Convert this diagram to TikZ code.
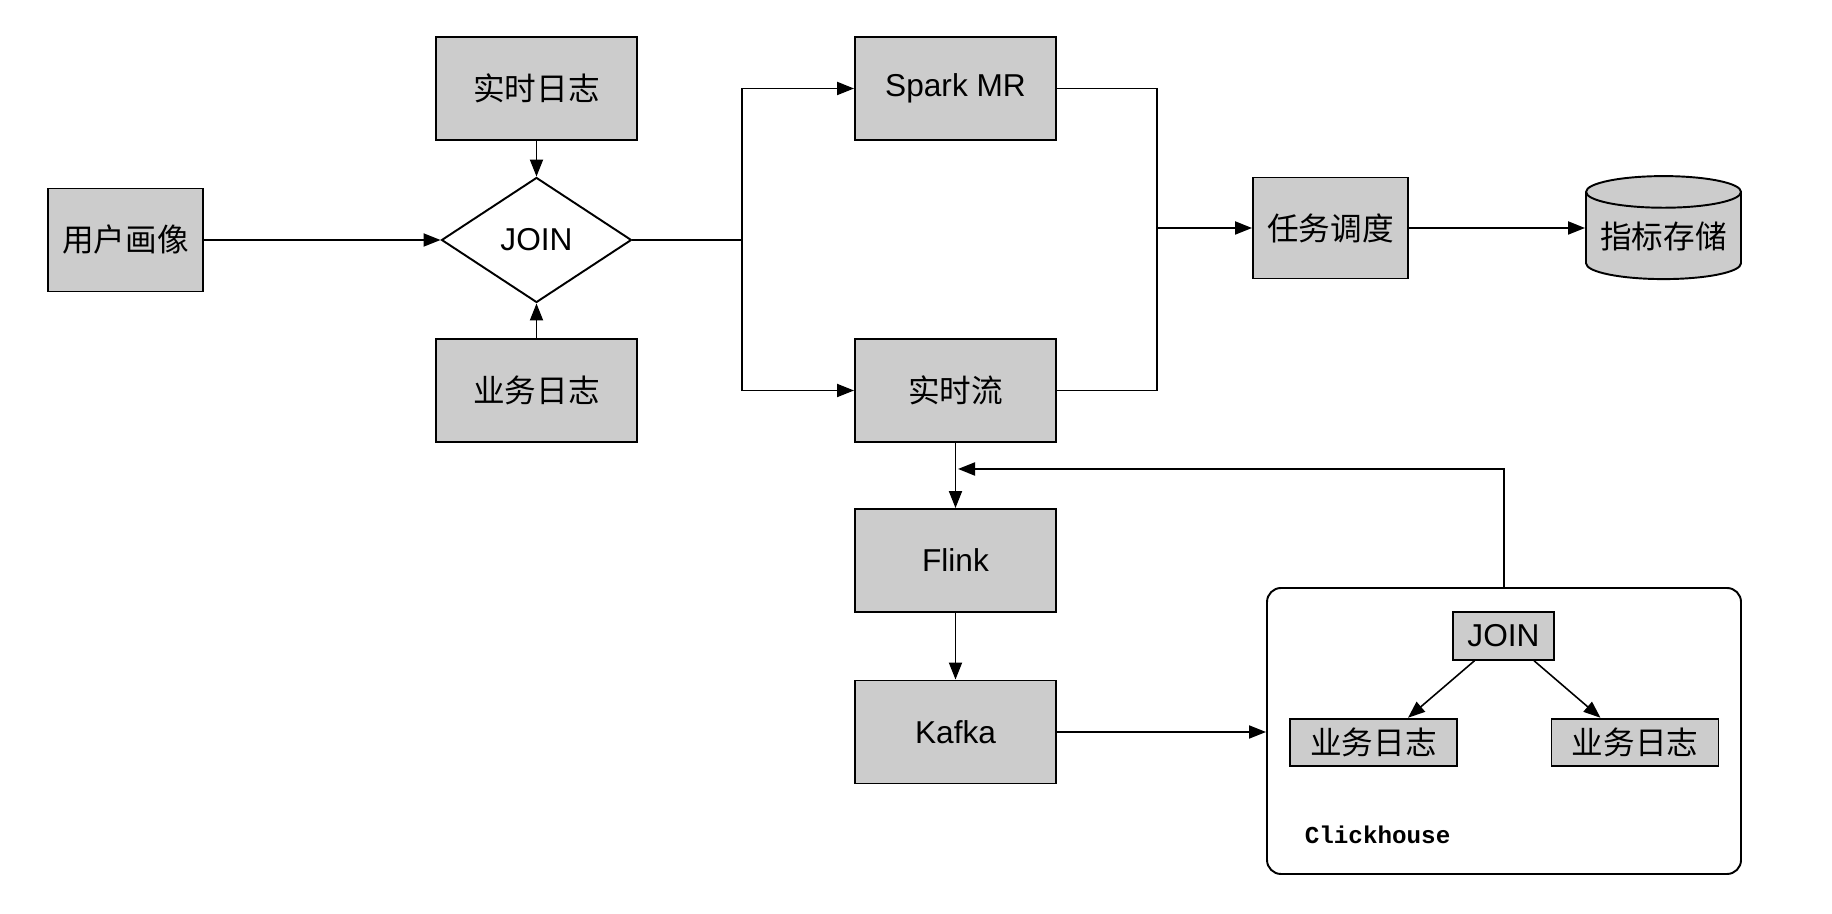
\documentclass[tikz,border=0pt]{standalone}
\usepackage{fontspec}
\setmainfont{Liberation Sans}
\setmonofont{Liberation Mono}
\newfontfamily\cjk{Noto Sans CJK SC}
\usepackage{xcolor}
\usetikzlibrary{shapes.geometric,arrows.meta,positioning,calc}
\definecolor{boxgrey}{RGB}{204,204,204}

\begin{document}
\begin{tikzpicture}[
    block/.style={rectangle, draw, fill=boxgrey, minimum width=4.02cm, minimum height=2.06cm, inner sep=0pt, font=\fontsize{18}{21}\selectfont},
    narrow/.style={block, minimum width=3.1cm},
    inner/.style={block, minimum height=0.95cm},
    decision/.style={diamond, draw, fill=white, minimum width=3.8cm, minimum height=2.5cm, inner sep=0pt, font=\fontsize{18}{21}\selectfont},
    store/.style={cylinder, shape border rotate=90, draw, cylinder uses custom fill, cylinder body fill=boxgrey, cylinder end fill=boxgrey, aspect=0.25, minimum width=3.1cm, minimum height=2.06cm, inner sep=0pt, font=\fontsize{18}{21}\selectfont},
    container/.style={rectangle, draw, rounded corners=0.28cm, minimum width=9.48cm, minimum height=5.72cm},
    >={Triangle[length=0.34cm, width=0.26cm]},
    line width=1.1pt,
]
    \useasboundingbox (0,0) rectangle (36.64,18.28);

    % Sources joined together
    \node[narrow] (portrait) at (2.51,13.48) {\cjk 用户画像};
    \node[block] (rtlog) at (10.73,16.51) {\cjk 实时日志};
    \node[decision] (join) at (10.73,13.48) {JOIN};
    \node[block] (bizlog) at (10.73,10.47) {\cjk 业务日志};

    % Batch and streaming branches
    \node[block] (spark) at (19.11,16.51) {Spark MR};
    \node[block] (stream) at (19.11,10.47) {\cjk 实时流};
    \node[block] (flink) at (19.11,7.07) {Flink};
    \node[block] (kafka) at (19.11,3.64) {Kafka};

    % Scheduling and storage
    \node[narrow, minimum height=2.02cm] (sched) at (26.61,13.72) {\cjk 任务调度};
    \node[store] (metric) at (33.27,13.56) {\cjk 指标存储};

    % Clickhouse box
    \node[container] (ck) at (30.08,3.66) {};
    \node[inner, minimum width=2.02cm] (ckjoin) at (30.07,5.56) {JOIN};
    \node[inner, minimum width=3.34cm] (ckleft) at (27.47,3.43) {\cjk 业务日志};
    \node[inner, minimum width=3.34cm] (ckright) at (32.7,3.43) {\cjk 业务日志};
    \node[anchor=west, font=\ttfamily\bfseries\fontsize{13.8}{16}\selectfont] (cklabel) at (25.96,1.58) {Clickhouse};

    % Connectors
    \coordinate (split) at (14.84,13.48);
    \coordinate (merge) at (23.14,13.72);
    \coordinate (fb) at (19.16,8.9);

    \draw[->] (portrait) -- (join);
    \draw[->] (rtlog) -- (join);
    \draw[->] (bizlog) -- (join);
    \draw (join.east) -- (split);
    \draw[->] (split) |- (spark.west);
    \draw[->] (split) |- (stream.west);
    \draw (spark.east) -| (merge);
    \draw (stream.east) -| (merge);
    \draw[->] (merge) -- (sched);
    \draw[->] (sched.east) -- (sched.east -| metric.west);
    \draw[->] (stream) -- (flink);
    \draw[->] (flink) -- (kafka);
    \draw[->] (kafka.east) -- (kafka.east -| ck.west);
    \draw[->] (ck.north) |- (fb);
    \draw[->, line width=0.9pt] ($(ckjoin.south)+(-0.58,0)$) -- ($(ckleft.north)+(0.69,0)$);
    \draw[->, line width=0.9pt] ($(ckjoin.south)+(0.61,0)$) -- ($(ckright.north)+(-0.69,0)$);
\end{tikzpicture}
\end{document}
